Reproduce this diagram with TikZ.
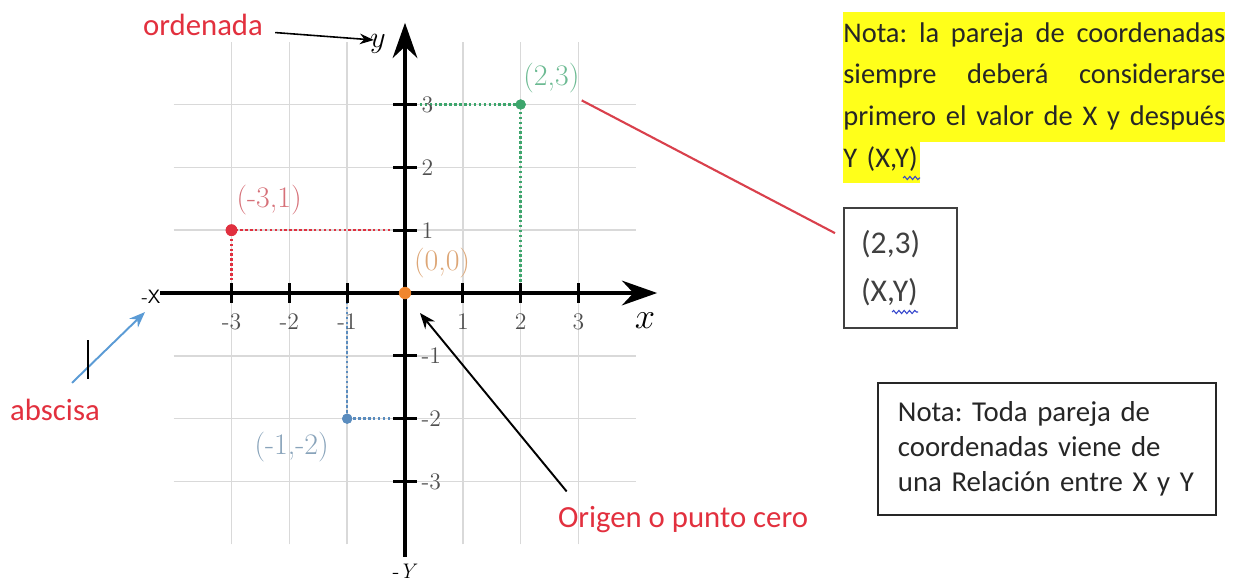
\documentclass[tikz,border=0pt]{standalone}
\usepackage{fontspec}
\newfontfamily\calibri{Carlito}
\usepackage{tikz}
\usetikzlibrary{arrows.meta,positioning,calc,decorations.pathmorphing}
\definecolor{notered}{HTML}{E2303E}
\definecolor{boxred}{HTML}{D9404C}
\definecolor{ptred}{HTML}{E0303F}
\definecolor{labred}{HTML}{D67078}
\definecolor{ptgreen}{HTML}{3DA56C}
\definecolor{labgreen}{HTML}{6CBA92}
\definecolor{ptblue}{HTML}{5A8CBE}
\definecolor{labblue}{HTML}{88A3BA}
\definecolor{ptorange}{HTML}{F0862E}
\definecolor{laborange}{HTML}{DDA676}
\definecolor{arrowblue}{HTML}{5B9BD5}
\definecolor{hilite}{HTML}{FFFF1A}
\definecolor{gridgray}{HTML}{D9D9D9}
\definecolor{tickgray}{HTML}{505050}
\definecolor{squiggle}{HTML}{3344CC}
\frenchspacing

\begin{document}
\begin{tikzpicture}[x=0.02cm,y=-0.02cm,
  anote/.style={notered,font=\calibri\fontsize{17.5}{21}\selectfont,inner sep=0},
  ticknum/.style={tickgray,font=\fontsize{13.5}{15}\selectfont,inner sep=0},
  ptlabel/.style={font=\fontsize{17}{19}\selectfont,inner sep=0},
  ptdot/.style={circle,fill=#1,inner sep=0,minimum size=6.6pt},
  guide/.style={line width=1.4pt,dash pattern=on 1.4pt off 1.4pt},
  axis/.style={line width=2.3pt,-{Stealth[length=20pt,width=14pt]}},
  wavy/.style={squiggle,line width=0.6pt,decorate,decoration={snake,amplitude=0.9pt,segment length=3pt}}]
  \useasboundingbox (0,0) rectangle (1233,582);

  % plane: one unit per tick
  \begin{scope}[shift={(405,293)},x=1.157cm,y=1.257cm]
    \foreach \i in {-3,-2,-1,1,2,3}{
      \draw[gridgray,line width=0.8pt] (\i,-4) -- (\i,4);
      \draw[gridgray,line width=0.8pt] (-4,\i) -- (4,\i);
    }
    \coordinate (orig) at (0,0);
    \node[ptdot=ptred] (pA) at (-3,1) {};
    \node[ptdot=ptgreen,minimum size=5.8pt] (pB) at (2,3) {};
    \node[ptdot=ptblue,minimum size=5.8pt] (pC) at (-1,-2) {};
    \draw[guide,ptred] (orig |- pA.center) -- (pA.center) -- (pA.center |- orig);
    \draw[guide,ptgreen] (orig |- pB.center) -- (pB.center) -- (pB.center |- orig);
    \draw[guide,ptblue] (orig |- pC.center) -- (pC.center) -- (pC.center |- orig);
    \draw[axis] (-4.24,0) -- (4.36,0);
    \draw[axis] (0,-4.2) -- (0,4.3);
    \foreach \i in {-3,-2,-1,1,2,3}{
      \draw[line width=1.6pt] (\i,-0.16) -- (\i,0.16);
      \draw[line width=1.6pt] (-0.2,\i) -- (0.2,\i);
      \node[ticknum] (tx\i) at (\i,-0.46) {\i};
      \node[ticknum,anchor=west] (ty\i) at (0.28,\i) {\i};
    }
    \node[ptdot=ptred] at (pA) {};
    \node[ptdot=ptgreen,minimum size=5.8pt] at (pB) {};
    \node[ptdot=ptblue,minimum size=5.8pt] at (pC) {};
    \node[ptdot=ptorange,minimum size=7pt] (pO) at (orig) {};
    \node[ptlabel,labred] (labA) at (-2.35,1.48) {(-3,1)};
    \node[ptlabel,labgreen] (labB) at (2.53,3.42) {(2,3)};
    \node[ptlabel,labblue] (labC) at (-1.96,-2.45) {(-1,-2)};
    \node[ptlabel,laborange] (labO) at (0.64,0.48) {(0,0)};
  \end{scope}

  % axis names
  \node[inner sep=0,font=\fontsize{18}{20}\selectfont] (ylab) at (378,44) {$y$};
  \node[inner sep=0,font=\fontsize{20}{22}\selectfont] (xlab) at (645,321) {$x$};
  \node[inner sep=0,font=\sffamily\fontsize{11}{13}\selectfont] (mx) at (151,297) {-X};
  \node[inner sep=0,font=\fontsize{12}{14}\selectfont] (my) at (405,571) {-\textit{Y}};

  % annotations
  \node[anote] (ordenada) at (203,25) {ordenada};
  \draw[line width=0.9pt,-{Stealth[length=8pt,width=6pt]}] ([shift={(12,-3)}]ordenada.base east) -- ([shift={(4,-4)}]ylab.west);
  \node[anote] (abscisa) at (55,410) {abscisa};
  \draw[arrowblue,line width=1.1pt,-{Stealth[length=9pt,width=7pt]}] ([shift={(17,-16)}]abscisa.north) -- ([shift={(-6,8)}]mx.south);
  \draw[line width=0.9pt] (88,340) -- (88,379);
  \node[anote] (origen) at (683,520) {Origen o punto cero};
  \draw[line width=1.1pt,-{Stealth[length=9pt,width=7pt]}] ([shift={(9,-15)}]origen.north west) -- ([shift={(15,20)}]pO.center);

  % notes
  \fill[hilite] (843,12) rectangle (1225,142);
  \fill[hilite] (843,142) rectangle (920,183);
  \node[anchor=north west,inner sep=0,text width=7.64cm,align=left,font=\calibri\fontsize{16.2}{23.8}\selectfont,black!85] (nota) at (843,22)
    {\makebox[7.64cm][l]{Nota: \hfill la \hfill pareja \hfill de \hfill coordenadas}\\
     \makebox[7.64cm][l]{siempre \hfill deberá \hfill considerarse}\\
     \makebox[7.64cm][l]{primero \hfill el \hfill valor \hfill de \hfill X \hfill y \hfill después}\\
     Y (X,Y)};
  \draw[wavy] (903,178) -- (920,178);

  \node[draw=boxred,line width=1.3pt,anchor=north west,minimum width=2.26cm,minimum height=2.4cm,
        inner xsep=0.34cm,text width=1.58cm,align=left,font=\calibri\fontsize{18}{27}\selectfont,black!75] (xybox) at (843,207)
    {(2,3)\\(X,Y)};
  \draw[wavy] (892,312) -- (918,312);
  \draw[boxred,line width=1.2pt] ([shift={(2,7)}]labB.south east) -- ([shift={(-8,-35)}]xybox.west);

  \node[draw,line width=1pt,anchor=north west,minimum width=6.76cm,minimum height=2.64cm,
        inner xsep=0.4cm,text width=5.96cm,align=left,font=\calibri\fontsize{16.4}{20.1}\selectfont,black!85] (nota2) at (877,382)
    {Nota: Toda pareja de\\coordenadas viene de\\una Relación entre X y Y};
\end{tikzpicture}
\end{document}
